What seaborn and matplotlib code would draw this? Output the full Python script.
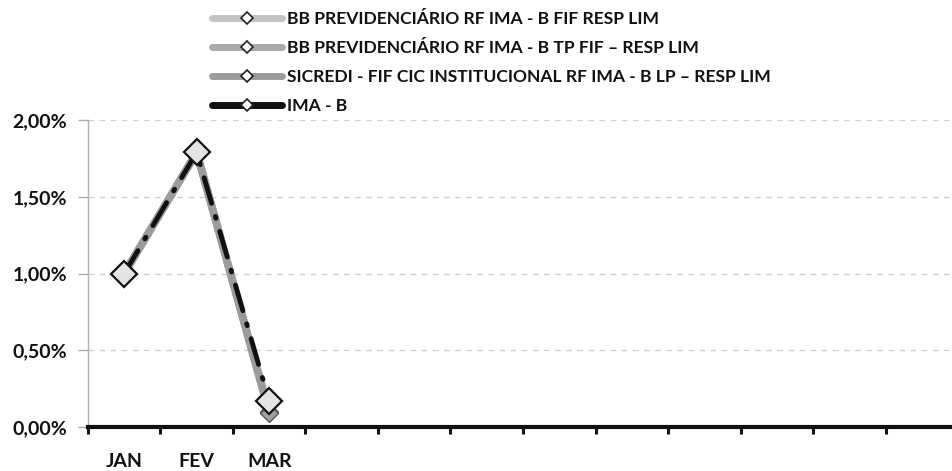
import matplotlib
matplotlib.use("Agg")
import matplotlib.pyplot as plt
from matplotlib.lines import Line2D
from matplotlib.ticker import FuncFormatter
import seaborn as sns
import pandas as pd

# Monthly returns (%)
months = ["JAN", "FEV", "MAR"]
all_months = ["JAN", "FEV", "MAR", "ABR", "MAI", "JUN", "JUL", "AGO", "SET", "OUT", "NOV", "DEZ"]
bb_ima_b = [1.00, 1.79, 0.10]
bb_ima_b_tp = [1.00, 1.79, 0.10]
sicredi_ima_b_lp = [1.00, 1.79, 0.09]
ima_b = [1.00, 1.79, 0.17]

series_names = [
    "BB PREVIDENCIÁRIO RF IMA - B FIF RESP LIM",
    "BB PREVIDENCIÁRIO RF IMA - B TP FIF – RESP LIM",
    "SICREDI - FIF CIC INSTITUCIONAL RF IMA - B LP – RESP LIM",
    "IMA - B",
]
series_values = [bb_ima_b, bb_ima_b_tp, sicredi_ima_b_lp, ima_b]

frames = []
for name, vals in zip(series_names, series_values):
    frames.append(pd.DataFrame({"mes": months, "pos": range(len(months)),
                                "retorno": vals, "serie": name}))
df = pd.concat(frames, ignore_index=True)

sns.set_theme(style="white")
plt.rcParams["font.family"] = ["Lato", "DejaVu Sans"]
plt.rcParams["font.weight"] = "bold"

fig = plt.figure(figsize=(9.53, 4.71), dpi=100)
ax = fig.add_axes([0.0923, 0.0934, 0.913, 0.6516])

line_colors = ["#c4c4c4", "#a9a9a9", "#9c9c9c"]
for name, col in zip(series_names[:3], line_colors):
    sub = df[df["serie"] == name]
    sns.lineplot(data=sub, x="pos", y="retorno", ax=ax, color=col, lw=5.5,
                 marker="D", markersize=9, markerfacecolor="#a0a0a0",
                 markeredgecolor="#555555", markeredgewidth=1,
                 sort=False, legend=False, zorder=3)

sub = df[df["serie"] == "IMA - B"]
sns.lineplot(data=sub, x="pos", y="retorno", ax=ax, color="#111111", lw=3.5,
             dashes=False, sort=False, legend=False, zorder=4)
ax.lines[-1].set_dashes([5.5, 2.8, 0.4, 2.8])
ax.lines[-1].set_dash_capstyle("round")
sns.lineplot(data=sub, x="pos", y="retorno", ax=ax, lw=0, marker="D",
             markersize=13, markerfacecolor="#e4e4e4", markeredgecolor="#111111",
             markeredgewidth=1.6, sort=False, legend=False, zorder=5)

# Axes styling
ax.set_xlim(-0.5, len(all_months) - 0.5)
ax.set_ylim(0, 2.0)
ax.set_xlabel("")
ax.set_ylabel("")
ax.set_yticks([0, 0.5, 1.0, 1.5, 2.0])
ax.yaxis.set_major_formatter(FuncFormatter(lambda v, p: f"{v:.2f}%".replace(".", ",")))
ax.yaxis.grid(True, color="#d0d0d0", linestyle=(0, (4, 4)), linewidth=1)
ax.set_axisbelow(True)

ax.set_xticks(range(len(all_months)))
ax.set_xticklabels([m if m in months else "" for m in all_months])
ax.set_xticks([k - 0.5 for k in range(len(all_months) + 1)], minor=True)
ax.tick_params(axis="x", which="major", bottom=True, length=0, pad=19, labelsize=14,
               colors="#111111")
ax.tick_params(axis="x", which="minor", bottom=True, length=5, width=2.2,
               direction="out", color="#111111")
ax.tick_params(axis="y", which="major", left=True, length=7, width=1, color="#aaaaaa",
               labelsize=14, labelcolor="#111111", pad=8)

for s in ["top", "right"]:
    ax.spines[s].set_visible(False)
ax.spines["left"].set_color("#b0b0b0")
ax.spines["left"].set_linewidth(1)
ax.spines["bottom"].set_color("#111111")
ax.spines["bottom"].set_linewidth(3)

for lbl in ax.get_xticklabels() + ax.get_yticklabels():
    lbl.set_fontweight("bold")

# Legend
handles = []
leg_colors = line_colors + ["#111111"]
for col in leg_colors:
    handles.append(Line2D([0], [0], color=col, lw=5, marker="D", markersize=6,
                          markerfacecolor="white", markeredgecolor="#222222",
                          markeredgewidth=1.2))
fig.legend(handles, series_names, loc="upper left", bbox_to_anchor=(0.206, 1.01),
           frameon=False, handlelength=4.0, handletextpad=0.3, labelspacing=0.74,
           prop={"size": 12.6, "weight": "bold"}, labelcolor="#111111")

fig.savefig("out.png", dpi=100)
